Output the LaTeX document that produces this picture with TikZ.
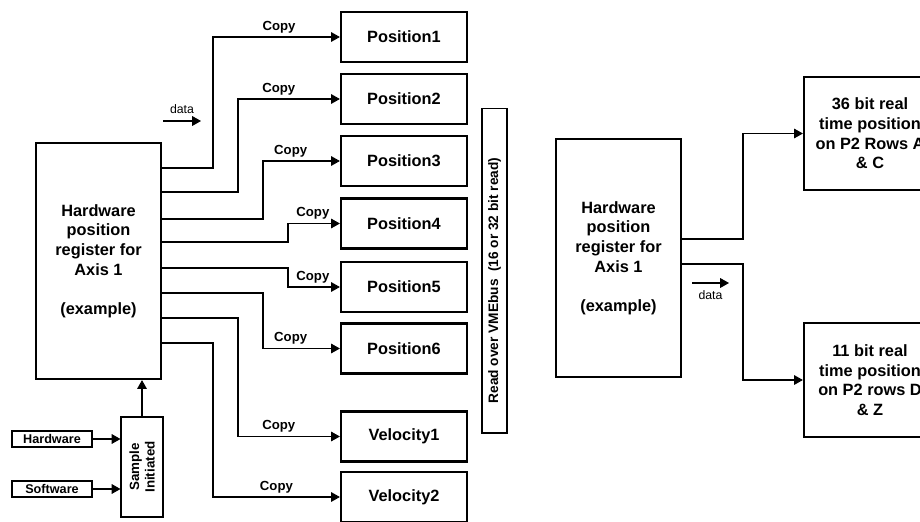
\documentclass[tikz,border=0pt]{standalone}
\usepackage{fontspec}
\setmainfont{Liberation Sans}
\usetikzlibrary{positioning, calc, arrows.meta}

\tikzset{
  bigbox/.style={draw, line width=1.3pt, align=center, font=\fontsize{9.3}{11.2}\selectfont\bfseries},
  smallbox/.style={draw, line width=0.6pt, inner sep=0pt},
  smalltext/.style={font=\fontsize{7.2}{8.6}\selectfont\bfseries, align=center},
  copylbl/.style={above, font=\fontsize{7.5}{9}\selectfont\bfseries, inner sep=2pt},
  datalbl/.style={font=\fontsize{7}{8}\selectfont, inner sep=2pt},
  link/.style={line width=0.6pt, -{Triangle[length=5pt,width=5.5pt]}},
}

\begin{document}
\begin{tikzpicture}[x=0.02cm, y=-0.02cm]
\useasboundingbox (0,0) rectangle (920,521);
\clip (0,0) rectangle (920,521);

% left half: register and the copies read over the bus
\node[bigbox, minimum width=2.5cm, minimum height=4.72cm](reg) at (98.5,261) {Hardware\\position\\register for\\Axis 1\\[11pt](example)};

\node[bigbox, minimum width=2.52cm, minimum height=1cm](pos1) at (404,37) {Position1};
\node[bigbox, minimum width=2.52cm, minimum height=1cm](pos2) at (404,99) {Position2};
\node[bigbox, minimum width=2.52cm, minimum height=1cm](pos3) at (404,161) {Position3};
\node[bigbox, minimum width=2.52cm, minimum height=1cm](pos4) at (404,223.5) {Position4};
\node[bigbox, minimum width=2.52cm, minimum height=1cm](pos5) at (404,287) {Position5};
\node[bigbox, minimum width=2.52cm, minimum height=1cm](pos6) at (404,348.5) {Position6};
\node[bigbox, minimum width=2.52cm, minimum height=1cm](vel1) at (404,436.5) {Velocity1};
\node[bigbox, minimum width=2.52cm, minimum height=1cm](vel2) at (404,497) {Velocity2};

\draw[link] (reg.east |- 0,168) -- (213,168) |- node[copylbl, pos=0.76]{Copy} (pos1.west);
\draw[link] (reg.east |- 0,192) -- (238,192) |- node[copylbl, pos=0.70]{Copy} (pos2.west);
\draw[link] (reg.east |- 0,219) -- (263,219) |- node[copylbl, pos=0.68]{Copy} (pos3.west);
\draw[link] (reg.east |- 0,242) -- (288,242) |- node[copylbl, pos=0.74]{Copy} (pos4.west);
\draw[link] (reg.east |- 0,268) -- (288,268) |- node[copylbl, pos=0.74]{Copy} (pos5.west);
\draw[link] (reg.east |- 0,293) -- (263,293) |- node[copylbl, pos=0.68]{Copy} (pos6.west);
\draw[link] (reg.east |- 0,318) -- (238,318) |- node[copylbl, pos=0.70]{Copy} (vel1.west);
\draw[link] (reg.east |- 0,343) -- (213,343) |- node[copylbl, pos=0.75]{Copy} (vel2.west);

\coordinate (dataL1) at (163,121);
\coordinate (dataL2) at (201,121);
\draw[link] (dataL1) -- node[datalbl, above, yshift=2pt]{data} (dataL2);

\node[smallbox, minimum width=1.6cm, minimum height=0.32cm](hw) at (52,439) {};
\node[smalltext] at (hw) {Hardware};
\node[smallbox, minimum width=1.6cm, minimum height=0.32cm](sw) at (52,489) {};
\node[smalltext] at (sw) {Software};
\node[smallbox, minimum width=0.84cm, minimum height=2cm](samp) at (142,467) {};
\node[smalltext, font=\fontsize{7.6}{8.8}\selectfont\bfseries, rotate=90] at (samp) {Sample\\Initiated};

\draw[link] (hw.east) -- (hw -| samp.west);
\draw[link] (sw.east) -- (sw -| samp.west);
\draw[link] (samp.north) -- (samp.north |- reg.south);

\node[smallbox, minimum width=0.5cm, minimum height=6.5cm](vme) at (494.5,270.5) {};
\node[smalltext, font=\fontsize{7.8}{9}\selectfont\bfseries, rotate=90] at ($(vme)+(0,10)$) {Read over VMEbus\ \ (16 or 32 bit read)};

% right half: real time position on P2
\node[bigbox, minimum width=2.5cm, minimum height=4.76cm](reg2) at (618.5,258) {Hardware\\position\\register for\\Axis 1\\[11pt](example)};
\node[bigbox, minimum width=2.64cm, minimum height=2.26cm](rt36) at (870,133.5) {36 bit real\\time position\\on P2 Rows A\\\& C};
\node[bigbox, minimum width=2.64cm, minimum height=2.28cm](rt11) at (870,380) {11 bit real\\time position\\on P2 rows D\\\& Z};

\draw[link] (reg2.east |- 0,239) -- (743,239) |- (rt36.west);
\draw[link] (reg2.east |- 0,264) -- (743,264) |- (rt11.west);

\coordinate (dataR1) at (692,283);
\coordinate (dataR2) at (729,283);
\draw[link] (dataR1) -- node[datalbl, below, yshift=-2pt]{data} (dataR2);
\end{tikzpicture}
\end{document}
